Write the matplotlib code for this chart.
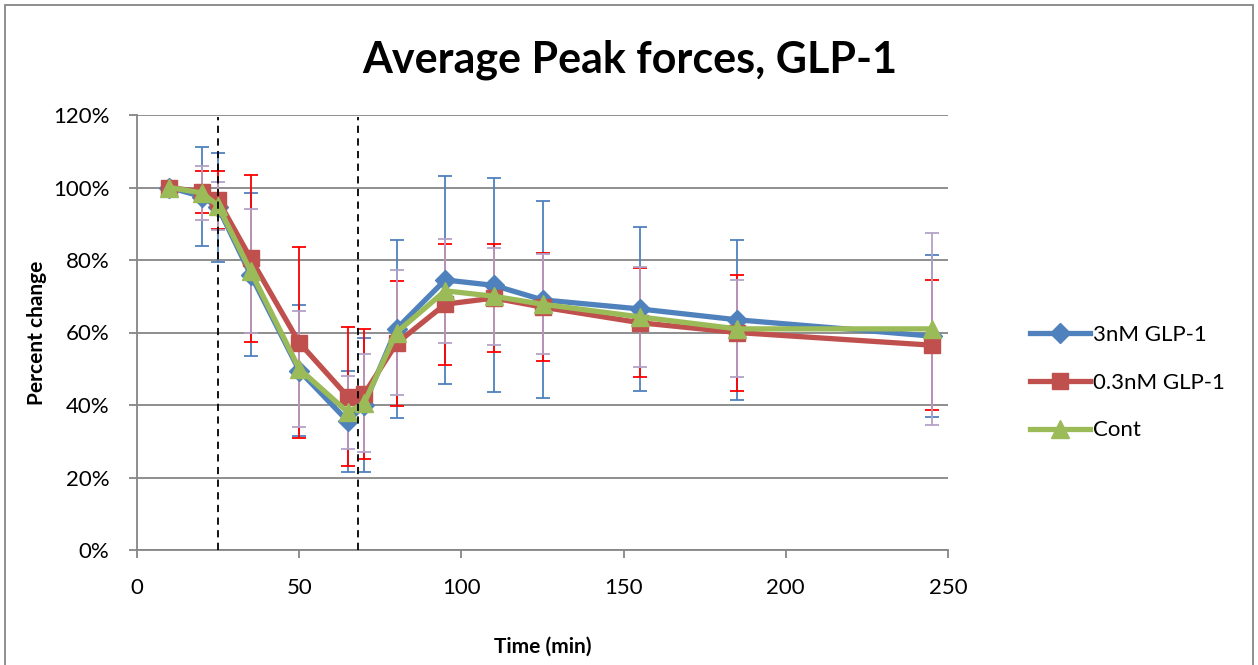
import numpy as np
import matplotlib.pyplot as plt
from matplotlib.patches import Rectangle

plt.rcParams['font.family'] = ['Lato', 'DejaVu Sans']

# Data
time = [10, 20, 25, 35, 50, 65, 70, 80, 95, 110, 125, 155, 185, 245]

glp3 = [100, 97.5, 94.5, 76, 49.5, 35.5, 40, 61, 74.5, 73, 69, 66.5, 63.5, 59]
glp3_err = [0, 13.7, 15, 22.5, 18, 14, 18.5, 24.5, 28.7, 29.5, 27.2, 22.7, 22, 22.4]

glp03 = [100, 98.8, 96.5, 80.5, 57.2, 42.3, 43, 57, 67.8, 69.5, 67, 62.7, 60, 56.5]
glp03_err = [0, 5.8, 8, 23, 26.3, 19.1, 18, 17.2, 16.7, 15, 14.8, 15, 16, 18]

cont = [100, 98.5, 95, 77, 50, 38, 40.5, 60, 71.5, 70, 67.8, 64.3, 61, 61]
cont_err = [0, 7.4, 6.6, 17, 16, 10, 13.5, 17.2, 14.3, 13.4, 13.8, 13.7, 13.4, 26.5]

markers_at = [25, 68]

c_blue = '#4F81BD'
c_red = '#C0504D'
c_green = '#9BBB59'
c_lav = '#B3A2C7'

fig = plt.figure(figsize=(12.58, 6.65), dpi=100)
ax = fig.add_axes([137 / 1258, 1 - 550 / 665, (948 - 137) / 1258, (550 - 115) / 665])

# error bars (behind the lines)
ax.errorbar(time, glp3, yerr=glp3_err, fmt='none', ecolor=c_blue, elinewidth=1.3, capsize=5, capthick=1.3, zorder=2)
ax.errorbar(time, glp03, yerr=glp03_err, fmt='none', ecolor='#FF0000', elinewidth=1.3, capsize=5, capthick=1.3, zorder=2)
ax.errorbar(time, cont, yerr=cont_err, fmt='none', ecolor=c_lav, elinewidth=1.3, capsize=5, capthick=1.3, zorder=2)

ax.plot(time, glp3, color=c_blue, lw=3.8, marker='D', ms=10, label='3nM GLP-1', zorder=4)
ax.plot(time, glp03, color=c_red, lw=3.8, marker='s', ms=12, label='0.3nM GLP-1', zorder=5)
ax.plot(time, cont, color=c_green, lw=3.8, marker='^', ms=13, label='Cont', zorder=6)

for xv in markers_at:
    ax.plot([xv, xv], [0, 119.5], color='black', lw=1.3, ls=(0, (4, 3)), zorder=7, clip_on=False)

ax.set_xlim(0, 250)
ax.set_ylim(0, 120)
ax.set_xticks(np.arange(0, 251, 50))
ax.set_yticks(np.arange(0, 121, 20))
ax.set_yticklabels([f'{v}%' for v in range(0, 121, 20)])
ax.yaxis.grid(True, color='#868686', lw=1.3)
ax.set_axisbelow(True)
for s in ['top', 'right']:
    ax.spines[s].set_visible(False)
for s in ['left', 'bottom']:
    ax.spines[s].set_color('#868686')
    ax.spines[s].set_linewidth(1.3)
ax.tick_params(axis='both', colors='#868686', labelcolor='black', labelsize=16, length=6, width=1.3)
ax.tick_params(axis='x', pad=14)
ax.tick_params(axis='y', pad=14)

ax.set_xlabel('Time (min)', fontsize=15, fontweight='bold', labelpad=28)
ax.set_ylabel('Percent change', fontsize=15, fontweight='bold', labelpad=4)
fig.text(630 / 1258, 1 - 60 / 665, 'Average Peak forces, GLP-1', fontsize=31, fontweight='bold',
         ha='center', va='center')

leg = ax.legend(loc='center left', bbox_to_anchor=(1.077, 0.385), frameon=False, fontsize=16,
                handlelength=2.7, labelspacing=1.25, handletextpad=0.1)

fig.patches.append(Rectangle((5 / 1258, -0.01), 1248 / 1258, 1 - 5 / 665 + 0.01, transform=fig.transFigure,
                             fill=False, edgecolor='#868686', lw=1.3))

fig.savefig('out.png', dpi=100)
